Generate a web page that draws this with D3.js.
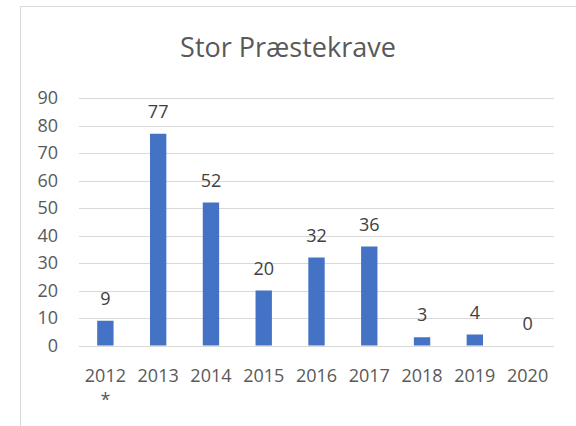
<!DOCTYPE html>
<html>
<head>
<meta charset="utf-8">
<script src="https://cdn.jsdelivr.net/npm/d3@7"></script>
<style>
  body { margin: 0; background: #fff; }
  svg { display: block; font-family: "Open Sans", sans-serif; }
</style>
</head>
<body>
<div id="chart"></div>
<script>
const categories = ['2012 *', '2013', '2014', '2015', '2016', '2017', '2018', '2019', '2020']
const values = [9, 77, 52, 20, 32, 36, 3, 4, 0]
const yTicks = [0, 10, 20, 30, 40, 50, 60, 70, 80, 90]
const title = 'Stor Præstekrave'

const width = 576
const height = 426

const svg = d3.select('#chart')
              .append('svg')
              .attr('width', width)
              .attr('height', height)

// chart frame
svg.append('rect')
    .attr('x', 20.5)
    .attr('y', 6.5)
    .attr('width', 600)
    .attr('height', 500)
    .attr('fill', '#fff')
    .attr('stroke', '#d9d9d9')

svg.append('text')
    .attr('x', 288)
    .attr('y', 57)
    .attr('text-anchor', 'middle')
    .style('font-size', '27px')
    .style('fill', '#595959')
    .text(title)

const x = d3.scaleBand()
            .domain(categories)
            .range([79, 554])
            .paddingInner(0.69)
            .paddingOuter(0.345)

const y = d3.scaleLinear()
            .domain([0, 90])
            .range([345.5, 98])

// gridlines
svg.append('g')
    .selectAll('line')
    .data(yTicks)
    .enter()
    .append('line')
    .attr('x1', 79)
    .attr('x2', 554)
    .attr('y1', d => Math.round(y(d)) + 0.5)
    .attr('y2', d => Math.round(y(d)) + 0.5)
    .attr('stroke', '#d9d9d9')
    .attr('stroke-width', 1)

const yAxis = svg.append('g')
    .attr('transform', 'translate(79,0)')
    .call(d3.axisLeft(y).tickValues(yTicks).tickSize(0).tickPadding(21))
yAxis.select('.domain').remove()
yAxis.selectAll('text')
    .style('font-size', '18px')
    .style('fill', '#595959')
    .style('font-family', '"Open Sans", sans-serif')

svg.append('g')
    .selectAll('rect')
    .data(values)
    .enter()
    .append('rect')
    .attr('x', (_, i) => x(categories[i]))
    .attr('y', d => y(d))
    .attr('width', x.bandwidth())
    .attr('height', d => y(0) - y(d))
    .attr('fill', '#4472c4')

svg.append('g')
    .selectAll('text')
    .data(values)
    .enter()
    .append('text')
    .attr('x', (_, i) => x(categories[i]) + x.bandwidth() / 2)
    .attr('y', d => y(d) - 16)
    .attr('text-anchor', 'middle')
    .style('font-size', '18px')
    .style('fill', '#404040')
    .text(d => d)

// category labels, wrapped at the space like the original
const xLabels = svg.append('g')
    .selectAll('text')
    .data(categories)
    .enter()
    .append('text')
    .attr('x', d => x(d) + x.bandwidth() / 2)
    .attr('y', 382)
    .attr('text-anchor', 'middle')
    .style('font-size', '18px')
    .style('fill', '#595959')

xLabels.selectAll('tspan')
    .data(d => d.split(' '))
    .enter()
    .append('tspan')
    .attr('x', function () { return d3.select(this.parentNode).attr('x') })
    .attr('dy', (_, i) => i === 0 ? 0 : 24)
    .text(d => d)
</script>
</body>
</html>
